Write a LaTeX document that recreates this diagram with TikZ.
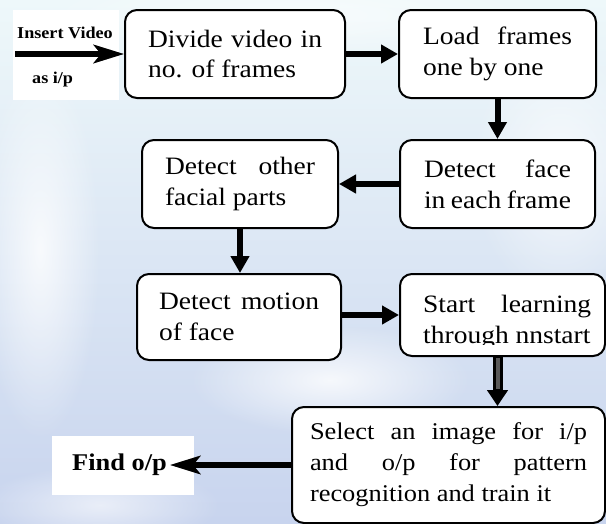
\documentclass[tikz,border=0pt]{standalone}
\usepackage{fontspec}
\setmainfont{Liberation Serif}[FakeStretch=1.1]
\usetikzlibrary{arrows.meta,fadings,calc}

\definecolor{bgtop}{HTML}{EEF8FA}
\definecolor{bgmid}{HTML}{D8F3F6}
\definecolor{bgbot}{HTML}{C8D4EE}
\definecolor{shadowgray}{HTML}{8A8A8A}

\newcommand{\bodyfont}{\fontsize{25}{31}\selectfont\hyphenpenalty=10000\exhyphenpenalty=10000}
\newcommand{\widefont}{\fontsize{24}{31}\selectfont\hyphenpenalty=10000\exhyphenpenalty=10000}

% radial fading for soft highlights in the backdrop
\tikzfading[name=softspot, inner color=transparent!0, outer color=transparent!100]

\tikzset{
  stagebox/.style={draw, line width=2pt, rounded corners=12pt, fill=white,
    align=justify, font=\bodyfont, inner ysep=0pt},
  plaintext/.style={inner sep=0pt, align=justify, font=\bodyfont},
  flow/.style={line width=6pt, -{Triangle[length=17pt,width=18pt]}},
  bigarrow/.style={line width=6pt, -{Stealth[length=30pt,width=18pt,inset=7pt]}},
  boldlabel/.style={inner sep=0pt, font=\bfseries\fontsize{16.5}{18}\selectfont},
  outlabel/.style={inner sep=0pt, font=\bfseries\fontsize{24}{26}\selectfont},
  blob/.style={fill=white, path fading=softspot}
}

\begin{document}
\begin{tikzpicture}[x=1pt,y=-1pt]
  \useasboundingbox (0,0) rectangle (606,523);

  % soft backdrop
  \shade[top color=bgtop, middle color=bgmid, bottom color=bgbot] (0,0) rectangle (606,523);
  \fill[blob, opacity=0.8] (40,250) ellipse (60 and 190);
  \fill[blob, opacity=0.7] (560,170) ellipse (90 and 130);
  \fill[blob, opacity=0.8] (330,380) ellipse (140 and 55);
  \fill[blob, opacity=0.6] (100,505) ellipse (120 and 40);
  \fill[blob, opacity=0.6] (300,15) ellipse (260 and 45);

  % white label panels
  \fill[white] (13,10) rectangle (119,100);
  \fill[white] (52,436) rectangle (194,495);

  % process boxes
  \node[stagebox, minimum width=220pt, minimum height=88pt, text width=174pt, inner xsep=23pt]
    (b1) at (235,54) {Divide video in no. of frames};
  \node[stagebox, minimum width=197pt, minimum height=88pt, text width=149pt, inner xsep=24pt]
    (b2) at (497.5,54) {Load frames one by one};
  \node[stagebox, minimum width=195pt, minimum height=88pt, text width=147pt, inner xsep=24pt]
    (b3) at (497.5,184) {Detect face in each frame};
  \node[stagebox, minimum width=196pt, minimum height=88pt, text width=150pt, inner xsep=23pt]
    (b4) at (240,184) {Detect other facial parts};
  \node[stagebox, minimum width=204pt, minimum height=86pt, text width=160pt, inner xsep=22pt]
    (b5) at (239,317) {Detect motion of face};
  \node[stagebox, minimum width=205pt, minimum height=82pt] (b6) at (502.5,315) {};
  \begin{scope}
    \clip (400,274) rectangle (605,344);
    \node[plaintext, text width=168pt, anchor=north west] (t6) at (423,295)
      {Start learning through nnstart};
  \end{scope}
  \node[stagebox, font=\widefont, minimum width=313pt, minimum height=116pt, text width=277pt, inner xsep=18pt]
    (b7) at (448.5,465)
    {Select an image for i/p\linebreak and o/p for pattern\linebreak recognition and train it};

  % input and output labels
  \node[boldlabel, anchor=base west] (lin) at (17,38) {Insert Video};
  \node[boldlabel, anchor=base west] (las) at (32,83) {as i/p};
  \node[outlabel, anchor=base west] (out) at (72,470) {Find o/p};

  % input arrow with drop shadow
  \coordinate (src) at (15,54);
  \draw[bigarrow, shadowgray, shift={(2,3)}] (src) -- (b1.west);
  \draw[bigarrow, black] (src) -- (b1.west);

  % flow between stages
  \draw[flow] (b1.east) -- (b2.west);
  \draw[flow] (b2.south) -- (b3.north);
  \draw[flow] (b3.west) -- (b4.east);
  \draw[flow] (b4.south) -- (b4.south |- b5.north);
  \draw[flow] (b5.east |- b6.west) -- (b6.west);

  % hollow arrow into the training stage
  \coordinate (h0) at (b2.south |- b6.south);
  \coordinate (h1) at (b2.south |- b7.north);
  \draw[line width=10pt, shadowgray, shift={(2,2)}, -{Triangle[length=16pt,width=20pt]}] (h0) -- (h1);
  \draw[line width=10pt, black, -{Triangle[length=16pt,width=20pt]}] (h0) -- (h1);
  \draw[line width=4pt, gray!70!black] ($(h0)+(0,1)$) -- ($(h1)+(0,-17)$);

  % output arrow with drop shadow
  \coordinate (dst) at (b7.west -| out.east);
  \draw[bigarrow, shadowgray, shift={(2,3)}] (b7.west) -- ($(dst)+(3,0)$);
  \draw[bigarrow, black] (b7.west) -- ($(dst)+(3,0)$);
\end{tikzpicture}
\end{document}
